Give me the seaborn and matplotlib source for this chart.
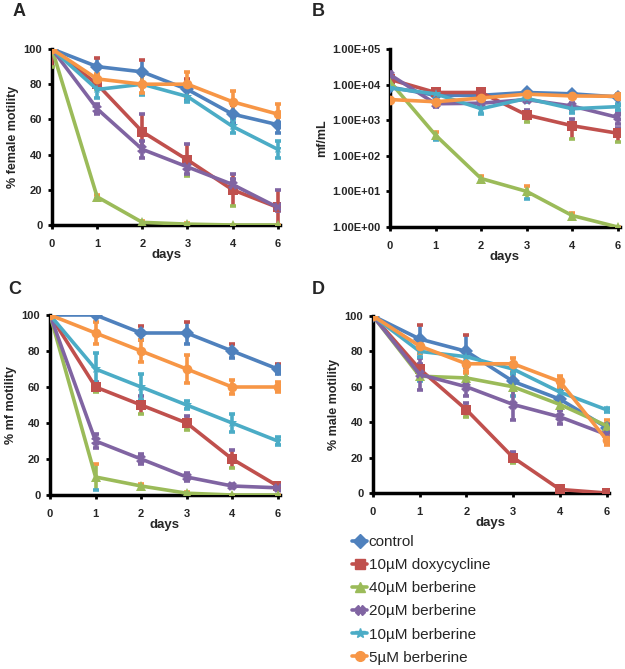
import numpy as np
import pandas as pd
import matplotlib
matplotlib.use("Agg")
import matplotlib.pyplot as plt
import seaborn as sns
from matplotlib.ticker import FixedLocator, FuncFormatter
from matplotlib.lines import Line2D

sns.set_style("white")
plt.rcParams['font.family'] = ['Liberation Sans', 'DejaVu Sans']

days = ["0", "1", "2", "3", "4", "6"]
groups = ["control", "10\u00b5M doxycycline", "40\u00b5M berberine",
          "20\u00b5M berberine", "10\u00b5M berberine", "5\u00b5M berberine"]
colors = ["#4F81BD", "#C0504D", "#9BBB59", "#8064A2", "#4BACC6", "#F79646"]
markers = ["D", "s", "^", "X", "*", "o"]

# Panel A: % female motility
female_control = [100, 90, 87, 77, 63, 57]
female_doxy = [100, 80, 53, 37, 20, 10]
female_b40 = [100, 16, 1.5, 0.5, 0, 0]
female_b20 = [100, 66, 43, 33, 23, 10]
female_b10 = [100, 77, 80, 73, 56, 43]
female_b5 = [100, 83, 80, 80, 70, 63]
female_err = [[0, 5, 7, 6, 5, 5], [10, 3, 10, 9, 9, 10], [0, 1, 1, 0.5, 0, 0],
              [0, 3, 5, 4, 3, 2], [0, 5, 6, 3, 4, 5], [0, 3, 5, 7, 6, 6]]

# Panel B: mf/mL
mf_control = [8500, 5000, 5000, 6000, 5500, 4500]
mf_doxy = [14000, 6000, 6000, 1400, 700, 430]
mf_b40 = [12000, 380, 23, 10, 2.1, 1]
mf_b20 = [19000, 2900, 3000, 3800, 2500, 1200]
mf_b10 = [8000, 5500, 2100, 4100, 2100, 2400]
mf_b5 = [3800, 3300, 4200, 5400, 4800, 4700]
mf_err = [[1000, 800, 800, 800, 800, 600], [2000, 800, 1000, 500, 400, 180],
          [2000, 100, 4, 4, 0.3, 0], [3000, 500, 500, 600, 500, 400],
          [1000, 800, 600, 800, 500, 500], [400, 800, 600, 600, 600, 600]]

# Panel C: % mf motility
mfm_control = [100, 100, 90, 90, 80, 70]
mfm_doxy = [100, 60, 50, 40, 20, 5]
mfm_b40 = [100, 10, 5, 1, 0, 0]
mfm_b20 = [100, 30, 20, 10, 5, 4]
mfm_b10 = [100, 70, 60, 50, 40, 30]
mfm_b5 = [100, 90, 80, 70, 60, 60]
mfm_err = [[0, 0, 4, 6, 4, 3], [0, 3, 5, 4, 5, 1], [0, 7, 1, 0.5, 0, 0],
           [0, 4, 3, 2, 1, 1], [0, 9, 7, 2, 5, 2], [0, 6, 6, 8, 4, 3]]

# Panel D: % male motility
male_control = [100, 87, 80, 63, 53, 37]
male_doxy = [100, 70, 47, 20, 2, 0]
male_b40 = [100, 66, 65, 60, 50, 38]
male_b20 = [100, 67, 60, 50, 43, 33]
male_b10 = [100, 80, 77, 70, 57, 47]
male_b5 = [100, 83, 73, 73, 63, 30]
male_err = [[0, 8, 9, 5, 5, 2], [0, 3, 4, 3, 1, 0], [0, 3, 3, 5, 3, 3],
            [0, 9, 5, 9, 4, 2], [0, 3, 3, 3, 3, 1], [0, 4, 4, 3, 3, 3]]

panels = [
    ("A", "% female motility", [female_control, female_doxy, female_b40, female_b20, female_b10, female_b5], female_err, False),
    ("B", "mf/mL", [mf_control, mf_doxy, mf_b40, mf_b20, mf_b10, mf_b5], mf_err, True),
    ("C", "% mf motility", [mfm_control, mfm_doxy, mfm_b40, mfm_b20, mfm_b10, mfm_b5], mfm_err, False),
    ("D", "% male motility", [male_control, male_doxy, male_b40, male_b20, male_b10, male_b5], male_err, False),
]

W, H = 625, 669
fig = plt.figure(figsize=(W / 100, H / 100), dpi=100)

def rect(l, r, top, bot):
    return [l / W, 1 - bot / H, (r - l) / W, (bot - top) / H]

rects = [rect(52, 280, 49, 225), rect(390, 620, 49, 227),
         rect(50, 280, 315, 495), rect(373, 609, 316, 493)]
label_pos = [(13, 12), (312, 12), (8, 289), (312, 289)]

xpos = list(range(len(days)))
for (lab, ylab, series, errs, logy), r, lp in zip(panels, rects, label_pos):
    ax = fig.add_axes(r)
    rows = []
    for g, vals in zip(groups, series):
        for xi, v in zip(xpos, vals):
            rows.append({"x": xi, "y": v, "group": g})
    df = pd.DataFrame(rows)
    for g, vals, e, c in zip(groups, series, errs, colors):
        ax.errorbar(xpos, vals, yerr=e, fmt="none", ecolor=c, elinewidth=2.6,
                    capsize=2.5, capthick=2.6, zorder=2)
    sns.lineplot(data=df, x="x", y="y", hue="group", style="group",
                 palette=colors, markers=markers, dashes=False,
                 hue_order=groups, style_order=groups,
                 linewidth=2.6, markersize=7, markeredgewidth=0,
                 legend=False, ax=ax, zorder=3)
    for ln, c in zip(ax.lines, colors):
        ln.set_markeredgecolor(c)
    ax.set_xlim(0, 5.05)
    ax.set_xticks(xpos)
    ax.set_xticklabels(days, fontweight="bold", fontsize=8)
    if logy:
        ax.set_yscale("log")
        ax.set_ylim(1, 1e5)
        ax.yaxis.set_major_locator(FixedLocator([1, 10, 100, 1e3, 1e4, 1e5]))
        ax.yaxis.set_minor_locator(FixedLocator([]))
        ax.yaxis.set_major_formatter(FuncFormatter(lambda v, p: "%.2fE+%02d" % (1.0, int(round(np.log10(v))))))
    else:
        ax.set_ylim(0, 100)
        ax.set_yticks([0, 20, 40, 60, 80, 100])
    for t in ax.get_yticklabels():
        t.set_fontweight("bold")
        t.set_fontsize(8)
    ax.set_xlabel("days", fontweight="bold", fontsize=9.5, labelpad=0)
    ax.set_ylabel(ylab, fontweight="bold", fontsize=9, labelpad=3)
    for s in ["top", "right"]:
        ax.spines[s].set_visible(False)
    for s in ["left", "bottom"]:
        ax.spines[s].set_color("black")
        ax.spines[s].set_linewidth(2.5)
        ax.spines[s].set_zorder(1)
    ax.tick_params(axis="both", which="major", direction="out", length=3, width=2,
                   color="black", pad=4, left=True, bottom=True)
    ax.tick_params(axis="x", pad=7)
    fig.text(lp[0] / W, 1 - lp[1] / H, lab, fontweight="bold", fontsize=13, va="center", ha="left")

handles = [Line2D([], [], color=c, marker=m, markersize=7, linewidth=2.6, markeredgecolor=c)
           for c, m in zip(colors, markers)]
fig.legend(handles, groups, loc="upper left", bbox_to_anchor=(352 / W, 1 - 535 / H),
           frameon=False, fontsize=11, handlelength=1.0, handletextpad=0.1,
           labelspacing=0.6, borderaxespad=0, borderpad=0)

fig.savefig("out.png", dpi=100)
